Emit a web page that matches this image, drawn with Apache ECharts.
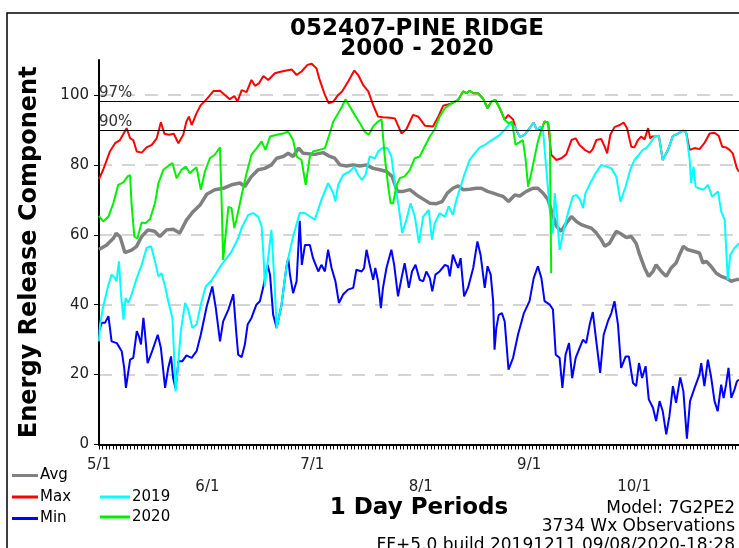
<!DOCTYPE html>
<html>
<head>
<meta charset="utf-8">
<title>052407-PINE RIDGE</title>
<script src="https://cdn.jsdelivr.net/npm/echarts@6/dist/echarts.min.js"></script>
<style>
html, body { margin: 0; padding: 0; background: #fff; }
#chart { width: 739px; height: 548px; }
</style>
</head>
<body>
<div id="chart"></div>
<script>
// x = day index counted from 5/1
var monthDays = [0, 31, 61, 92, 123, 153];
var monthLabels = ['5/1', '6/1', '7/1', '8/1', '9/1', '10/1'];
var yTicks = [0, 20, 40, 60, 80, 100];
var pctValues = [98.2, 89.8];
var pctLabels = ['97%', '90%'];

var avgData = [[0,55.8],[2.2,57.1],[4.1,59],[4.9,60.4],[6,59.5],[7.4,54.9],[9.3,55.6],[10.7,56.6],[12.2,59.5],[14,61.4],[15.9,61],[17.4,59.5],[19.3,61.4],[21.2,61.6],[23.1,60.5],[25,64.2],[26.9,66.6],[28.9,68.5],[30.8,71.6],[33.1,72.9],[35.5,73.3],[37.9,74.3],[40.3,74.8],[41.7,73.8],[43.6,76.7],[45.5,78.6],[47.4,79],[49.3,80],[50.8,81.9],[52.7,82.4],[54.1,83.3],[55.5,82.4],[57.1,84.8],[58.4,83.3],[61.7,83],[64.1,83.5],[66,82.4],[67.4,81.9],[68.9,80],[70.8,79.7],[72.7,80],[74.6,79.7],[76.5,80],[78.4,79],[80.3,78.6],[82.2,78.1],[83.8,76.7],[85.3,72.4],[87,72.4],[88.9,72.9],[90.8,71.4],[92.7,70.2],[94.6,69],[96.5,68.9],[98.1,69.5],[99.6,71.9],[101.2,73.3],[102.7,74],[104.1,72.9],[106,73],[107.9,73.3],[109.3,73.3],[111.1,72.4],[112.7,71.9],[114.1,71.4],[115.5,71],[117.1,69.5],[118.9,71.4],[120.3,71.1],[122.2,72.4],[124.1,73.3],[125.5,73.3],[127,71.9],[128.4,70],[129.3,67.1],[130.8,62.4],[132.2,61],[133.6,63.3],[135.1,65.2],[136.5,63.8],[137.9,62.9],[139.3,62.4],[140.8,61.9],[142.2,60.5],[143.6,58.6],[144.6,56.7],[146,57.6],[147.9,61],[149.3,60.2],[150.8,59.2],[152.2,59.5],[153.6,57.5],[154.6,54.3],[156,50.5],[157.2,48.1],[158.4,49.5],[159.3,51.4],[160.8,49.5],[162.2,48.1],[163.6,50.5],[165,51.9],[166,54.3],[167.1,56.7],[168.4,55.7],[170.3,55.2],[171.7,54.8],[172.7,51.9],[173.6,52.4],[175,51],[176.5,49],[177.9,48.1],[179.3,47.6],[180.8,46.7],[182,47.1],[183,47.3]];

var maxData = [[0,75.9],[1.2,78.6],[3.1,83.8],[4.6,86.2],[6,87.1],[7.9,90.5],[8.9,87.6],[9.8,87.1],[10.8,83.8],[12.2,83.5],[13.6,85],[15.1,85.7],[16.5,87.6],[17.7,92.2],[18.7,88.9],[20,88.6],[21.4,88.9],[22.7,86.2],[24.1,88.6],[25,92.4],[25.7,93.8],[26.5,91.4],[27.9,94.8],[29.1,97.1],[30.8,98.8],[32.7,101.1],[34.6,101.2],[36,100],[37.4,98.8],[38.7,99.7],[39.6,98.1],[40.8,101.4],[42.2,100.8],[43.6,104.3],[44.6,102.6],[45.7,103.3],[47,105.4],[48.4,104.3],[50.3,106.2],[52.2,106.7],[53.6,107],[55.1,107.3],[56.5,105.7],[57.9,106.7],[59.6,108.6],[60.8,108.9],[62.2,107.6],[63.1,104.3],[64.6,100],[65.7,97.6],[67,98.1],[68.4,100],[69.5,101],[71.2,103.8],[73,107],[74.1,105.7],[75.5,102.9],[77,101],[78.4,97.1],[79.8,93.8],[81.2,93.6],[83.2,93.5],[84.6,93.3],[86.5,89],[87.9,90.2],[89.8,94.3],[91.3,93.8],[93.2,91.2],[95.5,91],[97,93.8],[98.4,96.9],[99.8,97.3],[100.8,97.6],[102.7,98.6],[104.1,101],[105.1,100.5],[106,101.2],[107,100.5],[108.4,100.5],[109.8,99],[111.1,96.2],[112.2,98.1],[113.3,98.6],[114.6,96.2],[116,92.9],[117,94.3],[118.4,93],[119.3,90],[120.3,88],[121.7,88.6],[123.1,90.5],[124.3,92.1],[125.2,90],[126.5,90],[127.4,92.4],[128.4,92.1],[129,86],[129.3,82.9],[130.8,81.4],[132.2,81.9],[133.6,83],[135.1,87.1],[136.3,87.6],[137.4,85.7],[138.9,84.3],[140.3,83.5],[141.2,84.5],[142.2,87.1],[143.6,87.4],[144.6,85.2],[145.3,83.3],[146.2,88.6],[147.4,90.8],[148.9,91.4],[150,92.1],[151,90.5],[152.2,85.2],[153.1,85],[154.1,87.1],[155,88.1],[156,87.3],[157,90.5],[157.6,87.6],[158.2,88.1],[158.9,88.1],[160.1,88.3],[161.2,81.4],[162.7,84.3],[164.1,88.3],[165.5,88.9],[167,89.8],[167.9,89.2],[168.9,84.3],[170.3,84.8],[171.7,84.5],[173.1,86.2],[174.6,89],[176,89.2],[177.2,88.3],[178.2,85.2],[179.3,85],[180.3,84.3],[181.2,83.3],[182.4,79],[183,78]];

var minData = [[0,32.4],[0.8,34.8],[1.7,34.8],[2.7,36.7],[3.6,29.5],[5.1,29],[6.5,26.7],[7.2,21.9],[7.7,16.2],[8.9,24.3],[9.8,24.8],[10.8,32.4],[11.4,31],[12,28.6],[12.7,36.2],[13.1,32.4],[13.9,23.3],[15.2,26.7],[16.8,31.4],[17.7,27.6],[18.9,16.2],[19.8,21.9],[20.6,25.2],[21.2,19],[21.9,16],[22.7,23.8],[23.8,23.8],[25,25.5],[26.5,24.8],[27.9,26.7],[29.1,31.4],[30.8,39.5],[32.4,45.2],[33.4,39],[34.6,29.5],[35.5,35.2],[37,38.6],[38.4,43],[39.3,31.4],[39.8,25.7],[40.8,25],[41.7,28.6],[42.5,34.3],[43.6,36.2],[45,40],[46,41],[47,45.2],[48.2,51.4],[48.9,48.6],[49.8,37.1],[50.8,33.3],[52.2,40],[53.6,50.9],[54.1,53.3],[54.6,48.6],[55.5,43.3],[56.5,46.7],[57.4,64],[58,51.4],[58.9,57.1],[60.3,57.1],[61.2,53.3],[62.7,49.5],[63.6,51.4],[64.6,49.5],[65.5,55.7],[66.5,50.5],[67.6,46.7],[68.6,40.5],[69.8,42.9],[71.2,44.3],[72.7,44.8],[73.6,50],[75.1,49.5],[75.8,50.5],[76.5,55.7],[77.4,51.4],[78.4,47.1],[79,50.5],[79.8,46.7],[80.6,39],[81.2,44.8],[82.2,50.5],[83.6,55.7],[84.4,51.4],[85.5,42.4],[86.5,47.6],[87.4,51.9],[88.6,44.8],[89.5,49.5],[90.5,51.4],[91.7,47.1],[92.7,46.7],[93.6,49.5],[94.6,47.6],[95.3,43.8],[96.2,48.6],[97.4,49.5],[98.9,51.4],[99.8,51],[100.3,48.1],[101.2,54.3],[101.9,52.4],[102.7,50.5],[103.4,53.3],[104.4,42.4],[105.5,44.8],[107,50.5],[108.2,58.1],[109.1,54.3],[110.3,44.8],[111.1,51],[112,48.6],[112.7,41],[113.1,27.1],[113.6,33.3],[114.3,37.1],[115.2,37.6],[116,35.2],[117.1,21.4],[118.4,24.8],[119.8,31.4],[121.5,37.6],[123.1,41],[124.3,47.6],[125.5,51],[126.5,47.6],[127.4,41],[128.9,40],[129.8,38.6],[130.6,25.7],[131.7,24.8],[132.5,16.2],[133.4,25.7],[134.4,29],[135.3,19],[136.3,24.8],[137.4,27.6],[138.4,30],[139.3,29],[140.3,34.3],[141.2,37.9],[142.2,29.5],[143.3,20.5],[144.3,31.4],[145.5,35.2],[146.5,37.6],[147.4,41],[148.4,34.3],[149.3,21.9],[150.6,25.2],[151.5,25.2],[152.7,17.6],[153.6,16.7],[154.4,23.3],[155.3,19],[156.3,22.4],[157.2,12.9],[158.4,10.5],[159.3,6.7],[160.3,12.4],[161.2,9.5],[162.2,2.9],[163.1,8.1],[164.1,16.7],[165,11.9],[166.2,19.2],[167.1,15.2],[168.1,1.7],[169,12.4],[170.3,16.2],[171.7,20],[172.2,23.3],[173.1,16.7],[174.1,24.3],[175,19.5],[176,12.4],[176.9,9.5],[177.9,17.1],[178.6,13.3],[179.3,17.1],[180,21.9],[180.8,13.3],[181.7,15.7],[182.4,18.1],[183,18.5]];

var data2019 = [[0,29.5],[0.3,34.3],[1.2,39.5],[2.7,45.7],[3.6,48.6],[4.6,47.6],[5,46.7],[5.7,52.4],[6.3,42.9],[7,35.7],[7.6,41.9],[8.4,40.5],[9.3,42.9],[10.8,47.6],[12.2,51.4],[13.6,56.2],[14.9,56.7],[16,52.4],[17,48.1],[17.9,49],[18.9,45.2],[19.8,41],[21,36.2],[21.5,24.8],[21.9,15.2],[22.7,23.8],[23.4,32.4],[24.6,40.5],[25.5,38.6],[26.7,33.3],[27.9,34.3],[29.1,40],[30.5,45.2],[32,46.7],[33.3,48.6],[35,51.4],[36.5,53.3],[37.9,55.2],[39.8,59],[40.8,62],[42.7,65.7],[44.1,66.2],[45.5,65.2],[46.5,62.4],[47.1,52.8],[47.4,45.2],[48.4,53.7],[49.3,61.4],[50.3,44.2],[50.8,33.3],[52.2,40],[53.6,50.9],[55.5,59.5],[57.4,66.2],[58.9,66.2],[61.7,64.3],[63.6,70],[65.5,74.8],[67,71.9],[67.6,69.5],[68.4,74.3],[69.8,77.1],[71.7,78.1],[73,79.5],[74.1,77.1],[75.2,75.7],[76.2,77.1],[77.4,82.4],[78.9,81.9],[79.8,83.8],[81,84.8],[82.5,84.8],[83.6,82.4],[84.6,74.8],[85.7,68.1],[86.7,60.5],[87.9,64.3],[89.1,69],[90.3,65.2],[91.5,57.6],[92.7,65.2],[94.3,67.1],[95.2,58.6],[96,63.3],[97.4,66.2],[98.9,65.2],[100,68.1],[101.2,65.7],[102.2,70],[103.1,72.9],[104.6,77.6],[106,81.4],[107.4,83.3],[108.9,85],[110.3,85.7],[111.7,86.7],[113.1,87.6],[114.6,88.6],[116,90],[117.4,91.7],[118.9,91],[120.3,88],[121.7,88.6],[123.1,90.5],[124.3,92.1],[125.2,90],[126.2,91],[127,89.5],[128.9,67.1],[129.8,60.5],[130.3,71.9],[131,65.2],[131.7,55.7],[132.7,60.5],[134.1,66.2],[135.5,71],[136.5,71.4],[137.6,70],[138.4,67.6],[139.1,71.9],[140.5,74.8],[142,77.6],[143.6,80],[145.2,79.5],[146.5,79],[147.9,76.7],[149.1,69.5],[150.6,73.8],[151.9,78.6],[153.1,81.4],[154.4,82.9],[155.5,84.3],[156.5,84.8],[157.6,86.2],[158.9,88.1],[160.1,88.3],[161.2,81.4],[162.7,84.3],[164.1,88.3],[165.5,88.9],[167,89.8],[167.9,89.2],[168.9,81.4],[169.3,74.8],[170,79.5],[170.6,73.8],[171.5,73.3],[172.9,72.9],[174.1,74.3],[175.3,70.9],[177,72.4],[177.9,66.7],[178.9,64.3],[179.8,47.1],[180.5,54.3],[181.7,56.2],[183,57.5]];

var data2020 = [[0,65.4],[1.2,63.8],[2.7,65.2],[4.1,69],[5.5,74.3],[7,75],[8.2,76.7],[8.9,77.1],[9.3,69],[10.1,59.5],[11,59],[12.2,63.5],[13.3,63.3],[14.6,64.5],[16,69],[17,74.8],[18.4,78.6],[19.8,79.7],[21,80.5],[22.2,76.2],[23.6,78.6],[24.8,79.5],[26,77.6],[27,78.6],[27.9,79.3],[29.1,72.9],[30.3,78.1],[31.7,81.9],[33.1,82.9],[34.6,85],[35,71.9],[35.5,52.8],[37,68],[37.9,67.6],[38.7,61.9],[39.3,64.3],[40.8,71.4],[42.2,77.6],[43.6,82.9],[45.1,84.8],[46.5,86.7],[47.6,84.3],[48.9,88.1],[50.8,88.6],[52.7,89],[54.1,89.5],[55.5,87.1],[56.5,82.4],[57.9,81.4],[59.1,74.3],[60.3,82.4],[61.2,83.8],[63.1,84.3],[64.6,84.8],[65.7,88.1],[67,92.4],[68.4,94.8],[69.5,96.7],[70.5,98.8],[71.7,96.7],[73.1,94.3],[74.6,91.9],[76,89.5],[77.1,88.6],[78.4,91],[79.8,92.4],[80.8,93],[81.7,82.4],[82.7,73.8],[83.4,69],[84.1,69],[85,73.8],[86,76.2],[87.4,76.7],[88.9,78.6],[90.3,81.9],[91.7,82.4],[93.1,85.2],[94.6,88.1],[96,90.2],[97.4,93.8],[98.9,96.2],[100.8,97.6],[102.7,98.6],[104.1,101],[105.1,100.5],[106,101.2],[107,100.5],[108.4,100.5],[109.8,99],[111.1,96.2],[112.2,98.1],[113.3,98.6],[114.6,96.2],[116,92.9],[117.1,91.9],[118.1,92.4],[119.1,85.7],[120.3,86.5],[121.2,87.1],[122,81.4],[122.7,73.8],[123.6,77.6],[124.6,82.4],[125.5,86.7],[126.5,90],[127.4,92.4],[128.4,92.1],[128.9,89],[129.3,49]];

var allDays = [];
for (var d = 0; d <= 183; d++) allDays.push(d);

var FONT = 'DejaVu Sans';
var chart = echarts.init(document.getElementById('chart'));

function lineSeries(name, data, color, width) {
	return {
		name: name,
		type: 'line',
		data: data,
		symbol: 'none',
		lineStyle: { color: color, width: width },
		itemStyle: { color: color },
		animation: false
	};
}

var option = {
	backgroundColor: '#fff',
	animation: false,
	grid: { left: 99, right: 0, top: 60, bottom: 103.5 },
	legend: [
		{
			data: ['Avg', 'Max', 'Min'],
			orient: 'vertical', left: 12, top: 468, padding: 0,
			itemGap: 6.5, itemWidth: 26, itemHeight: 3, icon: 'rect',
			selectedMode: false,
			textStyle: { fontFamily: FONT, fontSize: 15, color: '#000', padding: [0, 0, 0, -3] }
		},
		{
			data: ['2019', '2020'],
			orient: 'vertical', left: 100, top: 489.5, padding: 0,
			itemGap: 5, itemWidth: 30, itemHeight: 3, icon: 'rect',
			selectedMode: false,
			textStyle: { fontFamily: FONT, fontSize: 15, color: '#000', padding: [0, 0, 0, -3] }
		}
	],
	xAxis: {
		type: 'value', min: 0, max: 183,
		name: '1 Day Periods', nameLocation: 'middle', nameGap: 52, nameMoveOverlap: false,
		nameTextStyle: { fontFamily: FONT, fontSize: 23, fontWeight: 'bold', color: '#000' },
		axisLine: { lineStyle: { color: '#000', width: 2 } },
		axisTick: { customValues: allDays, length: 5, lineStyle: { color: '#000', width: 1 } },
		axisLabel: {
			customValues: monthDays, margin: 10, lineHeight: 22,
			fontFamily: FONT, fontSize: 15, color: '#222',
			formatter: function (v) {
				var i = monthDays.indexOf(v);
				if (i < 0) return '';
				// every other month label sits on a second row
				return i % 2 ? '\n' + monthLabels[i] : monthLabels[i];
			}
		},
		splitLine: { show: false }
	},
	yAxis: {
		type: 'value', min: 0, max: 110,
		name: 'Energy Release Component', nameLocation: 'middle', nameRotate: 90, nameGap: 57,
		nameTextStyle: { fontFamily: FONT, fontSize: 24, fontWeight: 'bold', color: '#000' },
		axisLine: { show: true, lineStyle: { color: '#000', width: 2 } },
		axisTick: { show: true, customValues: yTicks, length: 5, lineStyle: { color: '#000' } },
		axisLabel: { customValues: yTicks, margin: 10, fontFamily: FONT, fontSize: 15, color: '#222' },
		splitLine: { show: true, lineStyle: { color: '#c8c8c8', width: 1.5, type: [13, 10] } }
	},
	graphic: [
		{ type: 'rect', shape: { x: 7, y: 13, width: 800, height: 600 }, style: { fill: 'none', stroke: '#000', lineWidth: 1.5 }, silent: true },
		{ type: 'text', x: 417, y: 29, style: { text: '052407-PINE RIDGE', font: 'bold 23px "DejaVu Sans"', fill: '#000', textAlign: 'center', textVerticalAlign: 'middle' } },
		{ type: 'text', x: 417, y: 49, style: { text: '2000 - 2020', font: 'bold 23px "DejaVu Sans"', fill: '#000', textAlign: 'center', textVerticalAlign: 'middle' } },
		{ type: 'text', x: 735, y: 509, style: { text: 'Model: 7G2PE2', font: '17px "DejaVu Sans"', fill: '#000', textAlign: 'right', textVerticalAlign: 'middle' } },
		{ type: 'text', x: 735, y: 527, style: { text: '3734 Wx Observations', font: '17px "DejaVu Sans"', fill: '#000', textAlign: 'right', textVerticalAlign: 'middle' } },
		{ type: 'text', x: 735, y: 546, style: { text: 'FF+5.0 build 20191211 09/08/2020-18:28', font: '17px "DejaVu Sans"', fill: '#000', textAlign: 'right', textVerticalAlign: 'middle' } }
	],
	series: [
		{
			// helper series only carrying the 97% / 90% percentile lines
			name: 'pct', type: 'line', data: [], symbol: 'none', animation: false,
			markLine: {
				silent: true, symbol: 'none', animation: false,
				lineStyle: { color: '#000', width: 1.2, type: 'solid' },
				label: { position: 'insideStartTop', formatter: '{b}', fontFamily: FONT, fontSize: 15, color: '#333', distance: [0, 1] },
				data: pctValues.map(function (v, i) { return { name: pctLabels[i], yAxis: v }; })
			}
		},
		lineSeries('Avg', avgData, '#808080', 3.5),
		lineSeries('Max', maxData, '#ff0000', 2),
		lineSeries('Min', minData, '#0000ff', 2),
		lineSeries('2019', data2019, '#00ffff', 2),
		lineSeries('2020', data2020, '#00f000', 2)
	]
};

chart.setOption(option);
</script>
</body>
</html>
